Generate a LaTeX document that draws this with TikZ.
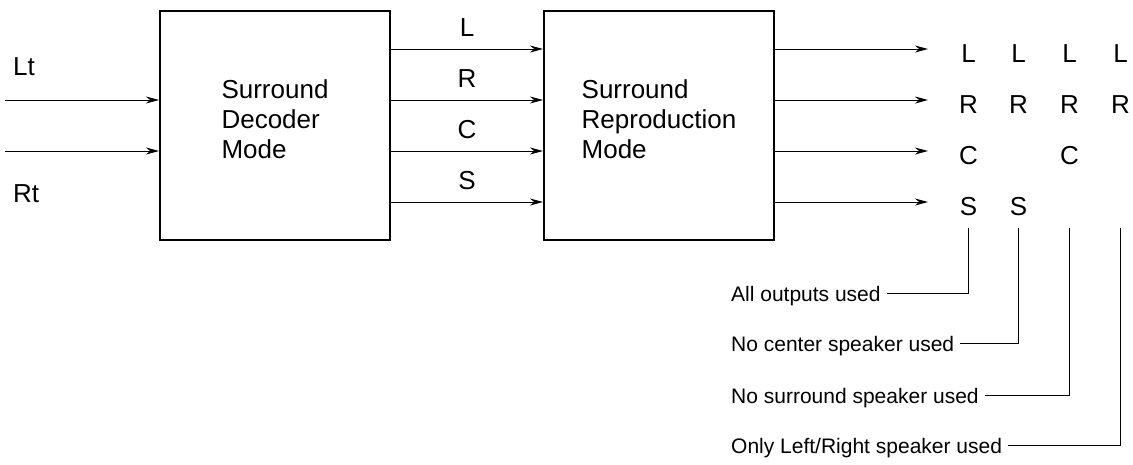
\documentclass[tikz,border=0pt]{standalone}
\usepackage{fontspec}
\setmainfont{Liberation Sans}
\usetikzlibrary{positioning,arrows.meta}

\tikzset{
  mode/.style={draw, line width=2pt, minimum width=230pt, minimum height=229pt,
    align=left, font=\fontsize{26}{30}\selectfont, text depth=12pt},
  sig/.style={-{Stealth[length=13pt,width=7pt]}, line width=1pt},
  chan/.style={font=\fontsize{26}{30}\selectfont, anchor=base, inner sep=0pt},
  usage/.style={font=\fontsize{21}{25}\selectfont, anchor=base west,
    inner xsep=6pt, inner ysep=0pt, text height=17pt, text depth=0pt},
  lead/.style={line width=1pt},
}

\begin{document}
\begin{tikzpicture}[x=1pt, y=-1pt]
    \useasboundingbox (0,0) rectangle (1133,464);

    \node [mode] (dec) at (275,125.5) {Surround\\Decoder\\Mode};
    \node [mode, right=152pt of dec] (rep) {Surround\\Reproduction\\Mode};

    % stereo input
    \coordinate (lt) at (5,100);
    \coordinate (rt) at (5,151);
    \node [chan, anchor=base west] (ltlabel) at (13,75) {Lt};
    \node [chan, anchor=base west] (rtlabel) at (13,202) {Rt};
    \draw [sig] (lt) -- (lt -| dec.west);
    \draw [sig] (rt) -- (rt -| dec.west);

    % decoded channels and outputs
    \foreach \y/\ch [count=\i] in {49/L, 100/R, 151/C, 202/S} {
      \coordinate (c\i) at (0,\y);
      \coordinate (o\i) at (928,\y);
      \draw [sig] (dec.east |- c\i) -- node [chan, yshift=13pt] {\ch} (rep.west |- c\i);
      \draw [sig] (rep.east |- c\i) -- (o\i);
    }

    % speaker layouts
    \foreach \n/\x/\y/\ch in {aL/968.5/62/L, aR/968.5/113/R, aC/968.5/164/C, aS/968.5/215/S,
                             bL/1018.5/62/L, bR/1018.5/113/R, bS/1018.5/215/S,
                             cL/1069.5/62/L, cR/1069.5/113/R, cC/1069.5/164/C,
                             dL/1120.5/62/L, dR/1120.5/113/R}
      \node [chan] (\n) at (\x,\y) {\ch};

    \foreach \n/\x in {a/968.5, b/1018.5, c/1069.5, d/1120.5}
      \coordinate (t\n) at (\x,228);

    \node [usage] (ua) at (725,301.5) {All outputs used};
    \node [usage] (ub) at (725,351.5) {No center speaker used};
    \node [usage] (uc) at (725,403.5) {No surround speaker used};
    \node [usage] (ud) at (725,453.5) {Only Left/Right speaker used};

    \draw [lead] (ua) -| (ta);
    \draw [lead] (ub) -| (tb);
    \draw [lead] (uc) -| (tc);
    \draw [lead] (ud) -| (td);
  \end{tikzpicture}
\end{document}
